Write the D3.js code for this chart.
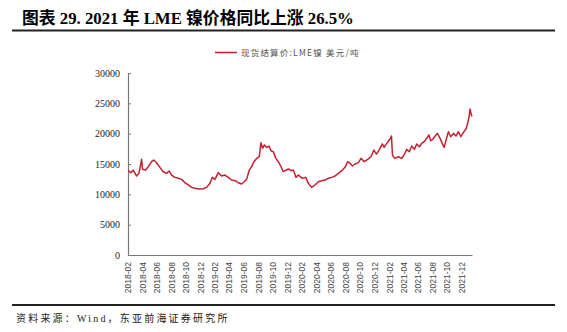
<!DOCTYPE html>
<html><head><meta charset="utf-8">
<script src="https://cdn.jsdelivr.net/npm/d3@7"></script>
<style>
html,body{margin:0;padding:0;background:#fff;}
svg{display:block;}
</style></head>
<body>
<svg id="chart" width="567" height="332"></svg>
<script>
const titleText = "图表 29. 2021 年 LME 镍价格同比上涨 26.5%";
const seriesName = "现货结算价:LME镍 美元/吨";
const sourceText = "资料来源：Wind，东亚前海证券研究所";
const dates = [
"2018-02-02","2018-02-13","2018-02-23","2018-03-09","2018-03-19","2018-03-30","2018-04-03","2018-04-16","2018-04-27","2018-05-11","2018-05-20","2018-06-01","2018-06-15","2018-06-29","2018-07-13","2018-07-24","2018-08-03","2018-08-17","2018-08-31","2018-09-14","2018-09-28","2018-10-12","2018-10-26","2018-11-09","2018-11-26","2018-12-14","2018-12-28",
"2019-01-11","2019-01-21","2019-02-01","2019-02-15","2019-03-01","2019-03-15","2019-03-29","2019-04-12","2019-04-26","2019-05-10","2019-05-24","2019-06-04","2019-06-14","2019-06-25","2019-07-05","2019-07-15","2019-07-26","2019-08-06","2019-08-13","2019-08-20","2019-08-27","2019-09-06","2019-09-16","2019-09-24","2019-10-04","2019-10-15","2019-10-25","2019-11-04","2019-11-15","2019-11-26","2019-12-08","2019-12-17","2019-12-27",
"2020-01-07","2020-01-17","2020-02-03","2020-02-17","2020-02-28","2020-03-13","2020-03-27","2020-04-10","2020-04-24","2020-05-08","2020-05-22","2020-06-05","2020-06-19","2020-07-03","2020-07-17","2020-07-31","2020-08-11","2020-08-21","2020-08-31","2020-09-11","2020-09-25","2020-10-06","2020-10-20","2020-11-03","2020-11-17","2020-11-29","2020-12-10","2020-12-21",
"2021-01-04","2021-01-11","2021-01-22","2021-02-02","2021-02-11","2021-02-15","2021-02-25","2021-03-12","2021-03-26","2021-04-05","2021-04-16","2021-04-27","2021-05-07","2021-05-18","2021-05-28","2021-06-08","2021-06-18","2021-06-28","2021-07-09","2021-07-18","2021-07-26","2021-08-03","2021-08-13","2021-08-23","2021-09-03","2021-09-12","2021-09-20","2021-09-29","2021-10-08","2021-10-18","2021-10-29","2021-11-09","2021-11-19","2021-11-29","2021-12-10","2021-12-21","2021-12-28",
"2022-01-03","2022-01-07","2022-01-11","2022-01-15"];
const prices = [
13900,13570,14000,13020,13460,15770,14120,14000,14560,15380,15650,15200,14450,13730,13460,13840,13180,12800,12640,12470,11920,11540,11150,10990,10880,10930,11150,
11810,12800,12470,13570,13020,13180,12800,12360,12250,11920,11700,12080,12470,14000,14560,15380,15930,16200,18500,17580,18130,17740,17960,17190,17030,15930,15380,14670,13730,14000,14170,13900,14000,
12800,13180,12640,12800,11810,11150,11540,12080,12250,12360,12640,12800,13020,13460,13900,14450,15380,15110,14670,15000,15220,15930,15380,15770,16200,17300,16640,17300,
18300,17740,18400,18950,19610,16480,15930,16200,15930,16480,17410,17030,17960,17410,18300,17850,18400,18680,19230,19780,18840,19060,19610,20050,19230,18400,17740,19060,20320,19500,20050,19610,20320,19500,20210,20760,21750,
22850,24060,23290,22850];
const yTicks = [0,5000,10000,15000,20000,25000,30000];
const xTickLabels = ["2018-02","2018-04","2018-06","2018-08","2018-10","2018-12","2019-02","2019-04","2019-06","2019-08","2019-10","2019-12","2020-02","2020-04","2020-06","2020-08","2020-10","2020-12","2021-02","2021-04","2021-06","2021-08","2021-10","2021-12"];
const domainStart = "2018-02-01", domainEnd = "2022-01-15";

(function(){
const parse = d3.timeParse("%Y-%m-%d");
const parseM = d3.timeParse("%Y-%m");
const data = dates.map((d,i)=>({date:parse(d), v:prices[i]}));

const svg = d3.select("#chart");
const mL = 128, mR = 472, mT = 73, mB = 255;
const x = d3.scaleTime().domain([parse(domainStart), parse(domainEnd)]).range([mL, mR]);
const y = d3.scaleLinear().domain([0, 30000]).range([mB, mT]);

// title
svg.append("text").attr("x", 22).attr("y", 24)
  .attr("font-family", "'Liberation Serif','Noto Sans CJK SC',serif")
  .attr("font-weight", "bold").attr("font-size", 16.8).attr("fill", "#000")
  .text(titleText);
svg.append("line").attr("x1", 12).attr("x2", 555).attr("y1", 30.5).attr("y2", 30.5)
  .attr("stroke", "#222").attr("stroke-width", 2);

// legend
svg.append("line").attr("x1", 215).attr("x2", 237).attr("y1", 52.5).attr("y2", 52.5)
  .attr("stroke", "#b8232f").attr("stroke-width", 1.5);
svg.append("text").attr("x", 241).attr("y", 55.5)
  .attr("font-family", "'Noto Sans CJK SC','Liberation Serif',serif")
  .attr("font-size", 8.5).attr("letter-spacing", 1.2).attr("fill", "#555").text(seriesName);

// y axis
const yAxis = d3.axisLeft(y).tickValues(yTicks).tickSize(-3).tickPadding(8).tickFormat(d3.format("d"));
const gy = svg.append("g").attr("transform", `translate(${mL},0)`).call(yAxis);
gy.select(".domain").attr("stroke", "#777").attr("stroke-width", 1.2);
gy.selectAll(".tick line").attr("stroke", "#777");
gy.selectAll(".tick text").attr("font-family", "'Liberation Serif',serif").attr("font-size", 10).attr("fill", "#222");

// x axis
const xAxis = d3.axisBottom(x).tickValues(xTickLabels.map(parseM)).tickSize(0).tickFormat(d3.timeFormat("%Y-%m"));
const gx = svg.append("g").attr("transform", `translate(0,${mB})`).call(xAxis);
gx.select(".domain").attr("stroke", "#777").attr("stroke-width", 1.2);
gx.selectAll(".tick text")
  .attr("font-family", "'Liberation Sans',Arial,sans-serif").attr("font-size", 8.5).attr("fill", "#444")
  .attr("transform", "rotate(-90)").attr("text-anchor", "end").attr("dy", "0.35em").attr("x", -7).attr("y", 0);

// line
const line = d3.line().x(d=>x(d.date)).y(d=>y(d.v));
svg.append("path").datum(data).attr("d", line).attr("fill", "none")
  .attr("stroke", "#c4202f").attr("stroke-width", 1.5).attr("stroke-linejoin", "round");

// bottom rule and source
svg.append("line").attr("x1", 12).attr("x2", 555).attr("y1", 305).attr("y2", 305)
  .attr("stroke", "#222").attr("stroke-width", 2);
svg.append("text").attr("x", 16).attr("y", 322)
  .attr("font-family", "'Liberation Serif','Noto Sans CJK SC',serif")
  .attr("font-size", 10).attr("letter-spacing", 2.2).attr("fill", "#222").text(sourceText);
})();
</script>
</body></html>
